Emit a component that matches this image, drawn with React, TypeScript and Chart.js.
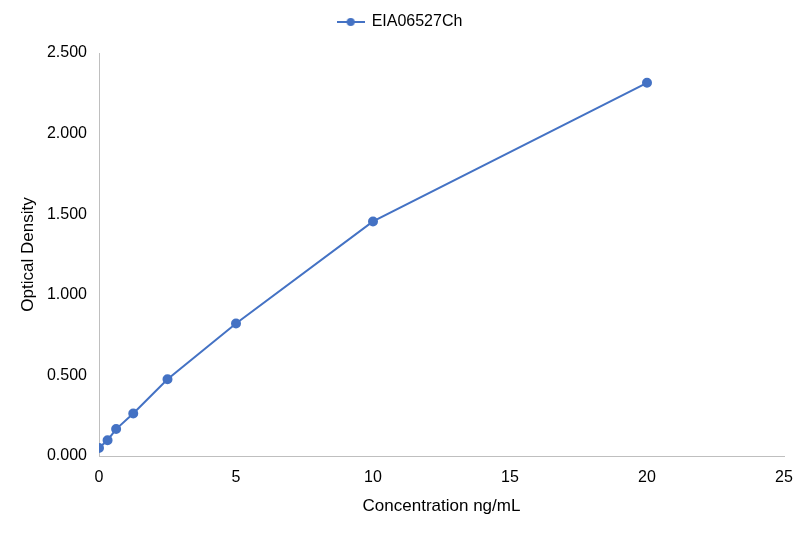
import { useEffect, useRef } from "react"
import Chart from "chart.js/auto"

const concentrations = [0, 0.313, 0.625, 1.25, 2.5, 5, 10, 20]
const densities = [0.05, 0.098, 0.167, 0.264, 0.476, 0.822, 1.455, 2.315]
const seriesName = "EIA06527Ch"
const xTitle = "Concentration ng/mL"
const yTitle = "Optical Density"

const blue = "#4472C4"
const font = "'Liberation Sans', Arial, sans-serif"

function legendIcon() {
  const c = document.createElement("canvas")
  c.width = 28
  c.height = 10
  const g = c.getContext("2d")
  if (g) {
    g.strokeStyle = blue
    g.lineWidth = 2
    g.beginPath()
    g.moveTo(0, 5)
    g.lineTo(28, 5)
    g.stroke()
    g.fillStyle = blue
    g.beginPath()
    g.arc(14, 5, 4, 0, Math.PI * 2)
    g.fill()
  }
  return c
}

// adds empty room under the legend and centres it on the whole canvas
const legendGap = {
  id: "legendGap",
  beforeLayout(chart: any) {
    const legend = chart.legend
    if (!legend || legend._gapPatched) return
    const fit = legend.fit.bind(legend)
    legend.fit = () => {
      fit()
      legend.height += 13
    }
    legend._gapPatched = true
  },
  afterLayout(chart: any) {
    const legend = chart.legend
    if (!legend) return
    legend.left += 8
    legend.right += 8
  },
}

export default function App() {
  const chartRef = useRef<HTMLCanvasElement>(null)
  const chartInstance = useRef<Chart | null>(null)

  useEffect(() => {
    document.body.style.margin = "0"
    if (!chartRef.current) return
    if (chartInstance.current) chartInstance.current.destroy()
    const ctx = chartRef.current.getContext("2d")
    if (!ctx) return

    const icon = legendIcon()

    chartInstance.current = new Chart(ctx, {
      type: "line",
      data: {
        datasets: [
          {
            label: seriesName,
            data: concentrations.map((x, i) => ({ x, y: densities[i] })),
            borderColor: blue,
            backgroundColor: blue,
            borderWidth: 2,
            pointRadius: 4,
            pointHoverRadius: 4,
            pointBackgroundColor: blue,
            pointBorderColor: blue,
            tension: 0,
            fill: false,
          },
        ],
      },
      plugins: [legendGap],
      options: {
        animation: false,
        responsive: false,
        layout: { padding: { top: 0, right: 17, left: 0, bottom: 12 } },
        plugins: {
          legend: {
            position: "top",
            labels: {
              usePointStyle: true,
              pointStyleWidth: 26,
              color: "#000",
              font: { family: font, size: 16 },
              padding: 14,
              generateLabels: (chart) =>
                chart.data.datasets.map((ds, i) => ({
                  text: ds.label as string,
                  datasetIndex: i,
                  pointStyle: icon,
                  fillStyle: blue,
                  strokeStyle: blue,
                  lineWidth: 0,
                  fontColor: "#000",
                })),
            },
          },
          tooltip: { enabled: false },
        },
        scales: {
          x: {
            type: "linear",
            min: 0,
            max: 25,
            grid: { display: false, drawTicks: false },
            border: { color: "#bfbfbf", width: 1 },
            ticks: {
              stepSize: 5,
              color: "#000",
              padding: 12,
              font: { family: font, size: 16 },
            },
            title: {
              display: true,
              text: xTitle,
              color: "#000",
              font: { family: font, size: 17 },
              padding: { top: 4, bottom: 4 },
            },
            afterFit: (scale) => {
              scale.height = 65
              scale.paddingRight = 0
              scale.paddingLeft = 0
            },
          },
          y: {
            min: 0,
            max: 2.5,
            grid: { display: false, drawTicks: false },
            border: { color: "#bfbfbf", width: 1 },
            ticks: {
              stepSize: 0.5,
              color: "#000",
              padding: 12,
              font: { family: font, size: 16 },
              callback: (value) => Number(value).toFixed(3),
            },
            title: {
              display: true,
              text: yTitle,
              color: "#000",
              font: { family: font, size: 17 },
              padding: { top: 18 },
            },
            afterFit: (scale) => {
              scale.width = 99
            },
          },
        },
      },
    })

    return () => {
      if (chartInstance.current) {
        chartInstance.current.destroy()
        chartInstance.current = null
      }
    }
  }, [])

  return (
    <div style={{ width: 801, height: 533, background: "#fff" }}>
      <canvas ref={chartRef} width={801} height={533}></canvas>
    </div>
  )
}
